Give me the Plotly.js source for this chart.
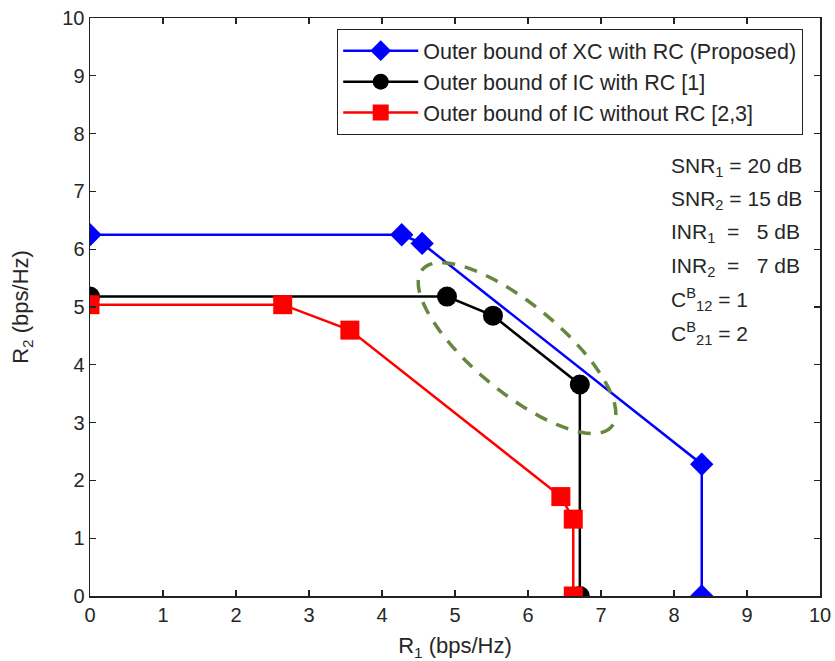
<!DOCTYPE html>
<html>
<head>
<meta charset="utf-8">
<script src="https://cdn.plot.ly/plotly-3.0.1.min.js"></script>
<style>html,body{margin:0;padding:0;background:#fff;}#chart{width:835px;height:661px;}</style>
</head>
<body>
<div id="chart"></div>
<script>
// ---- data ----
var xcR1 = [0, 4.27, 4.55, 8.38, 8.38];
var xcR2 = [6.25, 6.25, 6.1, 2.28, 0];
var icRcR1 = [0, 4.89, 5.52, 6.71, 6.71];
var icRcR2 = [5.18, 5.18, 4.85, 3.66, 0];
var icNoRcR1 = [0, 2.64, 3.56, 6.45, 6.62, 6.62];
var icNoRcR2 = [5.04, 5.04, 4.6, 1.72, 1.33, 0];
var seriesNames = [
  'Outer bound of XC with RC (Proposed)',
  'Outer bound of IC with RC [1]',
  'Outer bound of IC without RC [2,3]'
];
var tickVals = [0,1,2,3,4,5,6,7,8,9,10];
var paramLines = [
  'SNR<sub>1</sub> = 20 dB',
  'SNR<sub>2</sub> = 15 dB',
  'INR<sub>1</sub>&nbsp;&nbsp;=&nbsp;&nbsp;&nbsp;5 dB',
  'INR<sub>2</sub>&nbsp;&nbsp;=&nbsp;&nbsp;&nbsp;7 dB',
  'C<sup>B</sup><sub>12</sub> = 1',
  'C<sup>B</sup><sub>21</sub> = 2'
];
// highlighted region (ellipse): centre in data units, semi-axes in px, tilt in degrees
var ellipseCenter = [5.85, 4.29];
var ellipseAxesPx = [123, 44];
var ellipseTiltDeg = 39.6;

var W = 835, H = 661;
var M = {l: 90, r: 15, t: 18, b: 65};
var xppu = (W - M.l - M.r) / 10, yppu = (H - M.t - M.b) / 10;

function ellipsePath() {
  var th = ellipseTiltDeg * Math.PI / 180, p = '';
  for (var i = 0; i <= 72; i++) {
    var t = 2 * Math.PI * i / 72;
    var a = ellipseAxesPx[0] * Math.cos(t), b = ellipseAxesPx[1] * Math.sin(t);
    var px = a * Math.cos(th) - b * Math.sin(th);
    var py = a * Math.sin(th) + b * Math.cos(th);
    var dx = ellipseCenter[0] + px / xppu, dy = ellipseCenter[1] - py / yppu;
    p += (i === 0 ? 'M' : 'L') + dx.toFixed(4) + ',' + dy.toFixed(4);
  }
  return p + 'Z';
}

var FONT = 'Liberation Sans, Arial, sans-serif';
var traces = [
  {x: xcR1, y: xcR2, name: seriesNames[0], mode: 'lines+markers',
   line: {color: '#0000ff', width: 2.5}, marker: {symbol: 'diamond', size: 18, color: '#0000ff'}},
  {x: icRcR1, y: icRcR2, name: seriesNames[1], mode: 'lines+markers',
   line: {color: '#000000', width: 2.5}, marker: {symbol: 'circle', size: 20, color: '#000000'}},
  {x: icNoRcR1, y: icNoRcR2, name: seriesNames[2], mode: 'lines+markers',
   line: {color: '#ff0000', width: 2.5}, marker: {symbol: 'square', size: 19, color: '#ff0000'}}
];

var annotations = paramLines.map(function (t, i) {
  return {xref: 'paper', yref: 'paper', x: (669 - M.l) / (W - M.l - M.r),
    y: (H - M.b - (167 + 33.2 * i)) / (H - M.t - M.b),
    xanchor: 'left', yanchor: 'middle', showarrow: false, text: t,
    font: {family: FONT, size: 21, color: '#262626'}};
});

var axisCommon = {
  range: [0, 10], tickvals: tickVals, ticks: 'inside', ticklen: 6, tickwidth: 1.2,
  tickcolor: '#222', showline: true, linecolor: '#222', linewidth: 1.5, mirror: 'ticks',
  showgrid: false, zeroline: false, tickfont: {family: FONT, size: 20, color: '#262626'},
  fixedrange: true
};

var layout = {
  width: W, height: H, margin: M, paper_bgcolor: '#fff', plot_bgcolor: '#fff',
  showlegend: true,
  legend: {x: (337 - M.l) / (W - M.l - M.r), y: (H - M.b - 29) / (H - M.t - M.b),
    xanchor: 'left', yanchor: 'top', bgcolor: '#fff', bordercolor: '#222', borderwidth: 1.2,
    font: {family: FONT, size: 21.5, color: '#262626'}, itemwidth: 75, tracegroupgap: 0},
  xaxis: Object.assign({}, axisCommon, {title: {text: 'R<sub>1</sub> (bps/Hz)', standoff: 14,
    font: {family: FONT, size: 22, color: '#262626'}}}),
  yaxis: Object.assign({}, axisCommon, {title: {text: 'R<sub>2</sub> (bps/Hz)', standoff: 27,
    font: {family: FONT, size: 22, color: '#262626'}}}),
  shapes: [{type: 'path', xref: 'x', yref: 'y', path: ellipsePath(),
    line: {color: '#66873d', width: 3.5, dash: '13px,10px'}, fillcolor: 'rgba(0,0,0,0)', layer: 'above'}],
  annotations: annotations
};

Plotly.newPlot('chart', traces, layout, {displayModeBar: false, staticPlot: true});
</script>
</body>
</html>
